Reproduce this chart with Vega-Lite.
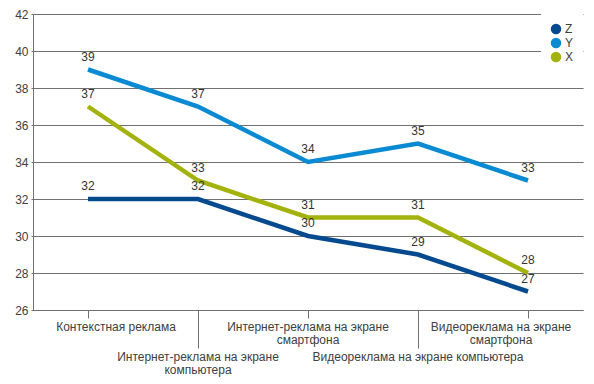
{
  "$schema": "https://vega.github.io/schema/vega-lite/v6.json",
  "autosize": {"type": "none"},
  "width": 550,
  "height": 296,
  "padding": {"left": 33, "top": 14, "right": 11, "bottom": 74},
  "background": "white",
  "config": {
    "font": "Liberation Sans",
    "view": {"stroke": null}
  },
  "data": {
    "values": [
      {"cat": "Контекстная реклама", "series": "Z", "value": 32},
      {"cat": "Интернет-реклама на экране компьютера", "series": "Z", "value": 32},
      {"cat": "Интернет-реклама на экране смартфона", "series": "Z", "value": 30},
      {"cat": "Видеореклама на экране компьютера", "series": "Z", "value": 29},
      {"cat": "Видеореклама на экране смартфона", "series": "Z", "value": 27},
      {"cat": "Контекстная реклама", "series": "Y", "value": 39},
      {"cat": "Интернет-реклама на экране компьютера", "series": "Y", "value": 37},
      {"cat": "Интернет-реклама на экране смартфона", "series": "Y", "value": 34},
      {"cat": "Видеореклама на экране компьютера", "series": "Y", "value": 35},
      {"cat": "Видеореклама на экране смартфона", "series": "Y", "value": 33},
      {"cat": "Контекстная реклама", "series": "X", "value": 37},
      {"cat": "Интернет-реклама на экране компьютера", "series": "X", "value": 33},
      {"cat": "Интернет-реклама на экране смартфона", "series": "X", "value": 31},
      {"cat": "Видеореклама на экране компьютера", "series": "X", "value": 31},
      {"cat": "Видеореклама на экране смартфона", "series": "X", "value": 28}
    ]
  },
  "encoding": {
    "x": {
      "field": "cat",
      "type": "nominal",
      "sort": ["Контекстная реклама", "Интернет-реклама на экране компьютера", "Интернет-реклама на экране смартфона", "Видеореклама на экране компьютера", "Видеореклама на экране смартфона"],
      "scale": {"type": "band", "paddingInner": 0, "paddingOuter": 0},
      "axis": {
        "title": null,
        "labelAngle": 0,
        "labelFontSize": 12,
        "labelColor": "#404040",
        "labelLineHeight": 13,
        "labelBaseline": "top",
        "labelLimit": 300,
        "domainColor": "#707070",
        "tickColor": "#707070",
        "tickSize": {"condition": {"test": "datum.value == 'Интернет-реклама на экране компьютера' || datum.value == 'Видеореклама на экране компьютера'", "value": 38}, "value": 8},
        "labelPadding": 3,
        "labelOffset": {"condition": [{"test": "datum.value == 'Контекстная реклама'", "value": 28}, {"test": "datum.value == 'Видеореклама на экране смартфона'", "value": -27}], "value": 0},
        "labelExpr": "datum.label == 'Интернет-реклама на экране компьютера' ? ['Интернет-реклама на экране', 'компьютера'] : datum.label == 'Интернет-реклама на экране смартфона' ? ['Интернет-реклама на экране', 'смартфона'] : datum.label == 'Видеореклама на экране смартфона' ? ['Видеореклама на экране', 'смартфона'] : datum.label",
        "grid": false
      }
    },
    "y": {
      "field": "value",
      "type": "quantitative",
      "scale": {"domain": [26, 42], "nice": false, "zero": false},
      "axis": {
        "title": null,
        "values": [26, 28, 30, 32, 34, 36, 38, 40, 42],
        "labelFontSize": 12,
        "labelColor": "#404040",
        "labelPadding": 3,
        "tickSize": 2,
        "tickColor": "#707070",
        "domainColor": "#707070",
        "gridColor": "#707070",
        "gridWidth": 1
      }
    },
    "color": {
      "field": "series",
      "type": "nominal",
      "scale": {"domain": ["Z", "Y", "X"], "range": ["#054a8e", "#0a8ad2", "#a3b20c"]},
      "legend": {
        "title": null,
        "orient": "none",
        "legendX": 508,
        "legendY": 0,
        "fillColor": "white",
        "padding": 9,
        "symbolType": "circle",
        "symbolSize": 110,
        "symbolStrokeWidth": 0,
        "labelFontSize": 12,
        "labelColor": "#404040",
        "rowPadding": 2,
        "labelOffset": 3,
        "encode": {
          "symbols": {"update": {"fill": {"scale": "color", "field": "value"}, "fillOpacity": {"value": 1}}}
        }
      }
    }
  },
  "layer": [
    {
      "mark": {"type": "line", "strokeWidth": 4.5}
    },
    {
      "mark": {"type": "text", "dy": -13, "baseline": "middle", "fontSize": 12, "color": "#333333"},
      "encoding": {
        "text": {"field": "value", "type": "quantitative"},
        "color": {"value": "#333333"}
      }
    }
  ]
}
